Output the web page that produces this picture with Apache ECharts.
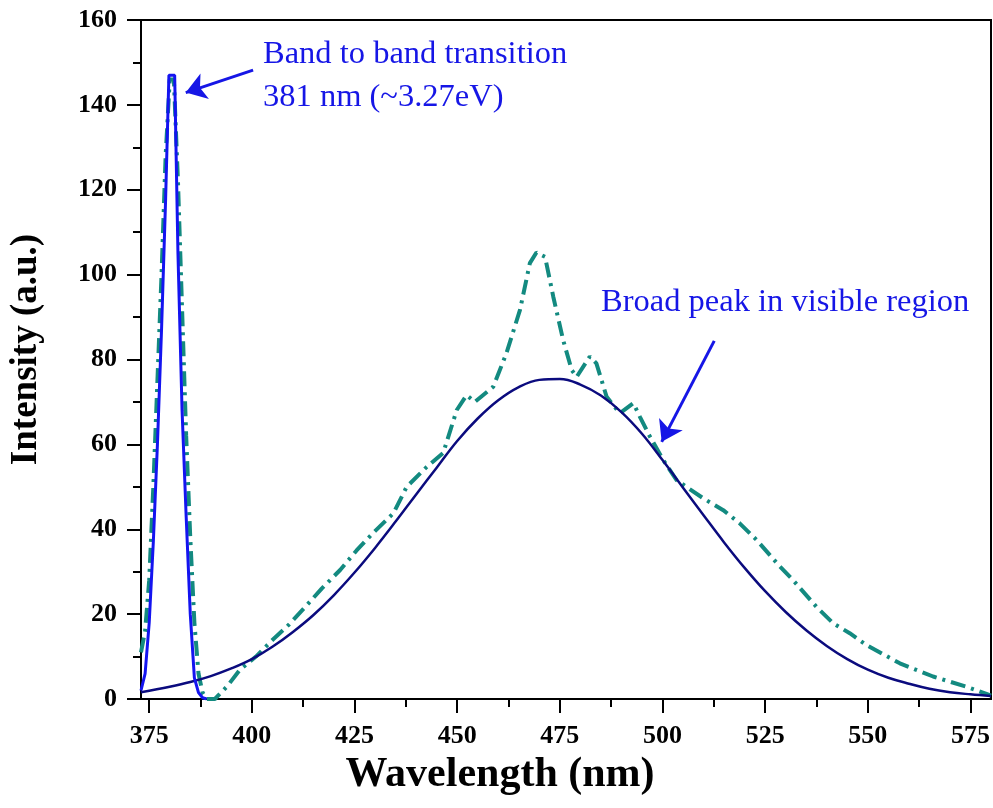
<!DOCTYPE html>
<html>
<head>
  <meta charset="utf-8">
  <style>
    html, body { margin: 0; padding: 0; width: 100%; height: 100%; overflow: hidden; background: #fff; }
  </style>
  <script src="https://cdn.jsdelivr.net/npm/echarts@6/dist/echarts.min.js"></script>
</head>
<body>
  <div id="container" style="width: 993px; height: 808px;"></div>
  <script>
    // narrow band-edge peak (solid blue)
    var bandX = [373, 374, 375, 376, 377, 378, 379, 379.8, 381.2, 382, 383, 384, 385, 386, 387, 388, 389];
    var bandY = [2, 6, 18, 37, 60, 87, 118, 147, 147, 105, 68, 43, 20, 5, 1.5, 0.3, 0];

    // broad fitted curve (navy)
    var fitX = [373, 380, 385, 390, 395, 400, 405, 410, 415, 420, 425, 430, 435, 440, 445, 450, 455, 460, 465, 470,
      475, 480, 485, 490, 495, 500, 505, 510, 515, 520, 525, 530, 535, 540, 545, 550, 555, 560, 565, 570, 575, 580];
    var fitY = [1.6, 2.9, 4.0, 5.4, 7.2, 9.4, 12.3, 15.8, 19.8, 24.5, 29.8, 35.6, 41.8, 48.2, 54.5, 60.8, 66.1, 70.4, 73.5, 75.2,
      75.4, 74.1, 71.5, 67.6, 62.5, 56.3, 49.8, 43.3, 36.9, 30.9, 25.4, 20.5, 16.2, 12.5, 9.4, 6.9, 5, 3.6, 2.4, 1.6, 1.1, 0.7];

    // measured spectrum (teal dash-dot)
    var expX = [373, 374, 375, 376, 377, 378, 379, 380, 381, 382, 383, 384, 385, 386, 387, 388, 389, 391, 394, 397,
      401, 405, 409, 413, 417, 421.5, 425.5, 429.5, 434.5, 437.7, 442.6, 446.6, 449.9, 452.3, 454.3, 458.8, 462, 465.3,
      467.7, 469.3, 471.4, 473.4, 475.8, 477.9, 479.1, 482.3, 483.9, 486.4, 489.6, 492.9, 494.5, 496.9, 500.2, 503.4,
      509.9, 514.8, 518.8, 522.9, 528.6, 531.8, 537.5, 541.6, 545.6, 549.7, 557.8, 565.9, 574, 578.9, 580];
    var expY = [11, 16, 28, 50, 75, 100, 128, 146, 146, 122, 92, 62, 38, 18, 6, 1.5, 0, 0, 3, 6.8,
      10, 13.9, 17.5, 21.7, 26, 30.4, 35, 39.1, 43.8, 50, 54.7, 58, 68.1, 71.6, 70, 73.6, 81.5, 91.7,
      102.7, 105.2, 104.2, 94.8, 84.6, 77.5, 75.9, 80.7, 79.1, 71.2, 67.3, 69.7, 66.5, 61.9, 56.3, 51.6,
      47.3, 44.5, 41.4, 37.5, 31.2, 28, 21.7, 17.8, 15.5, 12.7, 8.4, 5.3, 2.9, 1.2, 0.8];

    var xMajor = [375, 400, 425, 450, 475, 500, 525, 550, 575];
    var xMinor = [387.5, 412.5, 437.5, 462.5, 487.5, 512.5, 537.5, 562.5];

    // arrows [from, to] in data units
    var arrows = [
      [[400.3, 148.2], [383.9, 142.9]],
      [[512.6, 84.4], [499.8, 60.6]]
    ];

    var serif = '"Liberation Serif", "Times New Roman", serif';
    var annoColor = '#1616e6';

    function pairs(xs, ys) {
      return xs.map(function (x, i) { return [x, ys[i]]; });
    }

    var myChart = echarts.init(document.getElementById('container'), null, { renderer: 'canvas' });

    var option = {
      animation: false,
      grid: {
        left: 141, top: 20, right: 2, bottom: 109,
        show: true, borderColor: '#000', borderWidth: 2
      },
      xAxis: [{
        type: 'value',
        min: 373,
        max: 580,
        name: 'Wavelength (nm)',
        nameLocation: 'middle',
        nameGap: 52,
        nameTextStyle: {
          fontFamily: serif, fontWeight: 'bold', fontSize: 42, color: '#000',
          padding: [0, 132, 0, 0]
        },
        axisLine: { lineStyle: { color: '#000', width: 2 } },
        axisTick: { customValues: xMajor, length: 14, lineStyle: { color: '#000', width: 2 } },
        axisLabel: { customValues: xMajor, margin: 24, fontFamily: serif, fontWeight: 'bold', fontSize: 26, color: '#000' },
        splitLine: { show: false }
      }, {
        type: 'value',
        min: 373,
        max: 580,
        position: 'bottom',
        axisLine: { show: false },
        axisTick: { customValues: xMinor, length: 8, lineStyle: { color: '#000', width: 2 } },
        axisLabel: { show: false },
        splitLine: { show: false }
      }],
      yAxis: {
        type: 'value',
        min: 0,
        max: 160,
        interval: 20,
        name: 'Intensity (a.u.)',
        nameLocation: 'middle',
        nameGap: 96,
        nameTextStyle: {
          fontFamily: serif, fontWeight: 'bold', fontSize: 37, color: '#000',
          padding: [0, 0, 0, 20]
        },
        axisLine: { show: true, lineStyle: { color: '#000', width: 2 } },
        axisTick: { length: 14, lineStyle: { color: '#000', width: 2 } },
        minorTick: { show: true, splitNumber: 2, length: 8, lineStyle: { color: '#000', width: 2 } },
        axisLabel: { margin: 24, fontFamily: serif, fontWeight: 'bold', fontSize: 26, color: '#000' },
        splitLine: { show: false }
      },
      series: [{
        name: 'measured',
        type: 'line',
        showSymbol: false,
        data: pairs(expX, expY),
        lineStyle: { color: '#138a80', width: 4, type: [15, 6, 3, 6] },
        z: 2
      }, {
        name: 'fit',
        type: 'line',
        showSymbol: false,
        smooth: 0.4,
        data: pairs(fitX, fitY),
        lineStyle: { color: '#0b0b7e', width: 2.5 },
        z: 3
      }, {
        name: 'band',
        type: 'line',
        showSymbol: false,
        data: pairs(bandX, bandY),
        lineStyle: { color: '#1414f0', width: 3 },
        z: 4
      }, {
        name: 'arrows',
        type: 'line',
        data: [],
        z: 5,
        markLine: {
          silent: true,
          symbol: ['none', 'arrow'],
          symbolSize: 20,
          label: { show: false },
          lineStyle: { color: annoColor, width: 3, type: 'solid' },
          itemStyle: { color: annoColor },
          data: arrows.map(function (a) {
            return [{ coord: a[0] }, { coord: a[1] }];
          })
        }
      }],
      graphic: [
        { type: 'text', x: 263, y: 54, style: { text: 'Band to band transition', fill: annoColor, fontFamily: serif, fontSize: 32.5, verticalAlign: 'middle' } },
        { type: 'text', x: 263, y: 97, style: { text: '381 nm (~3.27eV)', fill: annoColor, fontFamily: serif, fontSize: 32.5, verticalAlign: 'middle' } },
        { type: 'text', x: 601, y: 302, style: { text: 'Broad peak in visible region', fill: annoColor, fontFamily: serif, fontSize: 32.5, verticalAlign: 'middle' } }
      ]
    };

    myChart.setOption(option);
    window.addEventListener('resize', myChart.resize);
  </script>
</body>
</html>
